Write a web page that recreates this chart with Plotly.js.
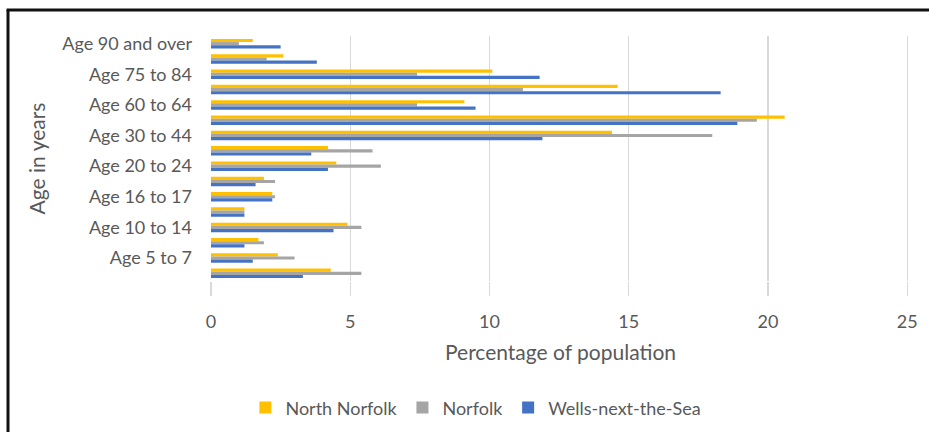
<!DOCTYPE html>
<html>
<head>
<meta charset="utf-8">
<script src="https://cdn.plot.ly/plotly-3.0.1.min.js"></script>
<style>html,body{margin:0;padding:0;background:#fff;}#chart{width:929px;height:432px;}</style>
</head>
<body>
<div id="chart"></div>
<script>
// Categories listed top to bottom as shown
const categories = ["Age 90 and over","Age 85 to 89","Age 75 to 84","Age 65 to 74","Age 60 to 64","Age 45 to 59","Age 30 to 44","Age 25 to 29","Age 20 to 24","Age 18 to 19","Age 16 to 17","Age 15","Age 10 to 14","Age 8 to 9","Age 5 to 7","Age 0 to 4"];
const shownLabels = ["Age 90 and over","Age 75 to 84","Age 60 to 64","Age 30 to 44","Age 20 to 24","Age 16 to 17","Age 10 to 14","Age 5 to 7"];
const northNorfolk = [1.5, 2.6, 10.1, 14.6, 9.1, 20.6, 14.4, 4.2, 4.5, 1.9, 2.2, 1.2, 4.9, 1.7, 2.4, 4.3];
const norfolk      = [1.0, 2.0, 7.4, 11.2, 7.4, 19.6, 18.0, 5.8, 6.1, 2.3, 2.3, 1.2, 5.4, 1.9, 3.0, 5.4];
const wells        = [2.5, 3.8, 11.8, 18.3, 9.5, 18.9, 11.9, 3.6, 4.2, 1.6, 2.2, 1.2, 4.4, 1.2, 1.5, 3.3];
const xTicks = [0, 5, 10, 15, 20, 25];

const font = "Lato, 'Open Sans', sans-serif";
const txt = "#595959";
function tr(name, vals, color) {
  return {type: "bar", orientation: "h", name: name, x: vals, y: categories,
          marker: {color: color}, hoverinfo: "x+y"};
}
const data = [
  tr("North Norfolk", northNorfolk, "#FFC000"),
  tr("Norfolk", norfolk, "#A5A5A5"),
  tr("Wells-next-the-Sea", wells, "#4472C4")
];
const layout = {
  width: 929, height: 432,
  margin: {l: 211, r: 19, t: 36, b: 151, autoexpand: false},
  paper_bgcolor: "#fff", plot_bgcolor: "#fff",
  barmode: "group", bargap: 0.38, bargroupgap: 0,
  font: {family: font, color: txt, size: 18},
  xaxis: {
    range: [0, 25.1], tickvals: xTicks, ticktext: xTicks.map(String),
    automargin: false,
    showgrid: true, gridcolor: "#D9D9D9", gridwidth: 1.3,
    zeroline: false, showline: false,
    ticks: "outside", ticklen: 14, tickcolor: "#D9D9D9", tickwidth: 1.3,
    ticklabelstandoff: 10,
    tickfont: {size: 18, color: txt, family: font},
    title: {text: "Percentage of population", font: {size: 21, color: txt, family: font}, standoff: 14}
  },
  yaxis: {
    type: "category", categoryorder: "array", categoryarray: categories,
    autorange: "reversed", automargin: false,
    tickvals: shownLabels, ticktext: shownLabels,
    showgrid: false, zeroline: false, showline: false, ticks: "",
    ticklabelstandoff: 18,
    tickfont: {size: 18, color: txt, family: font},
    title: {text: "Age in years", font: {size: 21, color: txt, family: font}, standoff: 10}
  },
  showlegend: true,
  legend: {orientation: "h", x: 0.379, xanchor: "center", y: -0.518, yanchor: "middle",
           font: {size: 18, color: txt, family: font}, traceorder: "normal",
           itemwidth: 30, bgcolor: "rgba(0,0,0,0)"},
  shapes: [
    {type: "line", xref: "paper", yref: "paper", x0: -0.2904, x1: -0.2904, y0: 1.106, y1: -0.62,
     line: {color: "#111", width: 3}},
    {type: "line", xref: "paper", yref: "paper", x0: -0.2925, x1: 1.03, y0: 1.106, y1: 1.106,
     line: {color: "#111", width: 3}}
  ]
};
Plotly.newPlot("chart", data, layout, {displayModeBar: false, staticPlot: true});
</script>
</body>
</html>
